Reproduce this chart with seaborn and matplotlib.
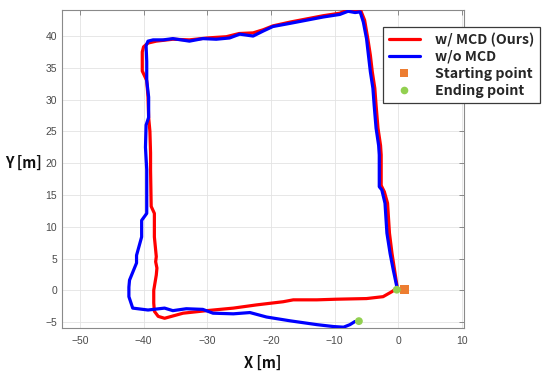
import matplotlib
matplotlib.use("Agg")
import matplotlib.pyplot as plt
from matplotlib.lines import Line2D
import seaborn as sns
import pandas as pd

# ---- data ----
red_x = [-0.3, -1.0, -2.4, -5.0, -9.7, -12.8, -16.5, -18.1, -22.3, -25.9, -30.1, -33.8,
         -36.7, -37.7, -38.3, -38.4, -38.4, -38.0, -37.9, -38.1, -38.0, -38.3, -38.3,
         -38.8, -38.9, -38.9, -39.0, -39.2, -39.3, -39.5, -40.2, -40.2, -40.0, -39.3,
         -38.0, -35.4, -32.8, -30.0, -27.0, -25.0, -22.8, -21.2, -19.7, -17.0, -14.4,
         -11.8, -9.2, -7.9, -6.8, -6.2, -5.9, -5.3, -4.8, -4.4, -4.1, -3.7, -3.5, -3.2,
         -2.8, -2.7, -2.7, -2.2, -1.7, -1.4, -1.0, -0.6, -0.2]
red_y = [0.3, -0.2, -1.0, -1.3, -1.4, -1.5, -1.5, -1.8, -2.3, -2.8, -3.2, -3.6,
         -4.4, -4.1, -3.3, -2.0, 0.0, 2.4, 3.5, 4.5, 5.3, 8.4, 12.1,
         13.2, 18.9, 21.6, 25.0, 27.2, 30.4, 33.0, 34.5, 37.5, 38.3, 38.9,
         39.2, 39.5, 39.4, 39.7, 39.9, 40.4, 40.5, 41.0, 41.6, 42.2, 42.7,
         43.2, 43.6, 44.1, 43.9, 44.2, 44.0, 42.5, 39.6, 37.0, 34.4, 31.8, 29.1, 25.5,
         22.8, 21.3, 16.5, 15.5, 13.7, 9.0, 5.8, 3.2, 0.6]

blue_x = [-0.25, -0.25, -0.8, -1.3, -1.8, -2.1, -2.6, -3.0, -3.0, -3.1, -3.5, -3.8,
          -4.0, -4.4, -4.7, -5.0, -5.5, -6.0, -6.8, -7.9, -9.2, -11.8, -14.4, -17.0,
          -19.7, -21.2, -22.8, -24.9, -26.5, -28.6, -30.7, -32.8, -35.4, -36.9, -38.5,
          -39.3, -39.6, -39.5, -39.5, -39.2, -39.2, -39.6, -39.7, -39.5, -39.5, -40.3,
          -40.3, -41.1, -41.1, -42.2, -42.3, -42.3, -41.7, -39.3, -36.7, -35.4, -33.3,
          -30.7, -29.1, -25.9, -23.3, -20.7, -17.0, -12.8, -10.2, -8.6, -7.6, -6.8]
blue_y = [0.2, 0.6, 3.2, 5.8, 9.0, 13.7, 15.8, 16.3, 21.3, 22.8, 25.5, 29.1,
          31.8, 34.4, 37.0, 39.6, 42.2, 43.8, 43.7, 43.9, 43.4, 43.0, 42.5, 42.0,
          41.5, 40.8, 40.0, 40.3, 39.7, 39.5, 39.6, 39.2, 39.6, 39.4, 39.4,
          39.2, 38.5, 36.0, 33.0, 30.4, 27.2, 26.0, 22.5, 19.0, 12.1, 11.0,
          8.4, 5.5, 4.3, 1.6, 0.5, -1.0, -2.8, -3.1, -2.8, -3.2, -2.9,
          -3.0, -3.6, -3.7, -3.5, -4.2, -4.8, -5.4, -5.7, -5.8, -5.4, -4.9]

start_x = [0.95]
start_y = [0.15]
end_x = [-0.25, -6.2]
end_y = [0.1, -4.85]

x_ticks = [-50, -40, -30, -20, -10, 0, 10]
y_ticks = [-5, 0, 5, 10, 15, 20, 25, 30, 35, 40]

# ---- style ----
sns.set_style("white")
plt.rcParams['font.family'] = ['Liberation Sans', 'DejaVu Sans']

fig = plt.figure(figsize=(5.5, 3.75), dpi=100)
ax = fig.add_axes([62/550, 1-328/375, 402/550, 318/375])

red_df = pd.DataFrame({"x": red_x, "y": red_y})
blue_df = pd.DataFrame({"x": blue_x, "y": blue_y})

sns.lineplot(data=red_df, x="x", y="y", sort=False, estimator=None, color="#ff0000",
             lw=2.3, ax=ax, zorder=3)
sns.lineplot(data=blue_df, x="x", y="y", sort=False, estimator=None, color="#0000ff",
             lw=2.3, ax=ax, zorder=4)
sns.scatterplot(x=start_x, y=start_y, marker="s", s=38, color="#ED7D31",
                edgecolor="none", ax=ax, zorder=5)
sns.scatterplot(x=end_x, y=end_y, marker="o", s=32, color="#92D050",
                edgecolor="none", ax=ax, zorder=6)

ax.set_xlim(-52.8, 10.3)
ax.set_ylim(-5.93, 44.1)
ax.set_xticks(x_ticks)
ax.set_yticks(y_ticks)
ax.grid(True, color="#e3e3e3", lw=0.6)
ax.set_axisbelow(True)
for s in ax.spines.values():
    s.set_color("#8a8a8a")
    s.set_linewidth(0.8)
ax.tick_params(axis="both", direction="in", length=3.5, width=0.7, color="#8a8a8a",
               labelsize=7.5, labelcolor="#4a4a4a", top=True, right=True)
ax.tick_params(axis="x", pad=5.5)
ax.tick_params(axis="y", pad=3.5)

bold_family = ["Noto Sans CJK SC", "DejaVu Sans"]
lab_font = dict(family=bold_family, weight="bold", size=10.5, color="#111111")
ax.set_xlabel("X [m]", fontdict=lab_font)
ax.set_ylabel("Y [m]", fontdict=lab_font, rotation=0, ha="center", va="center")
ax.xaxis.set_label_coords(0.5, -0.085)
ax.yaxis.set_label_coords(-0.095, 0.519)

handles = [
    Line2D([], [], color="#ff0000", lw=2.3),
    Line2D([], [], color="#0000ff", lw=2.3),
    Line2D([], [], color="#ED7D31", marker="s", ls="none", markersize=6, markeredgewidth=0),
    Line2D([], [], color="#92D050", marker="o", ls="none", markersize=5.5, markeredgewidth=0),
]
labels = ["w/ MCD (Ours)", "w/o MCD", "Starting point", "Ending point"]
leg = fig.legend(handles, labels, loc="upper left", bbox_to_anchor=(383/550, 1-27/375),
                 bbox_transform=fig.transFigure, borderaxespad=0, frameon=True,
                 fancybox=False, edgecolor="#3a3a3a", framealpha=1,
                 prop=dict(family=bold_family, weight="bold", size=10.2),
                 handlelength=2.2, handletextpad=1.1, labelspacing=0.2,
                 borderpad=0.4)
leg.get_frame().set_linewidth(0.9)

fig.savefig("out.png", dpi=100)
